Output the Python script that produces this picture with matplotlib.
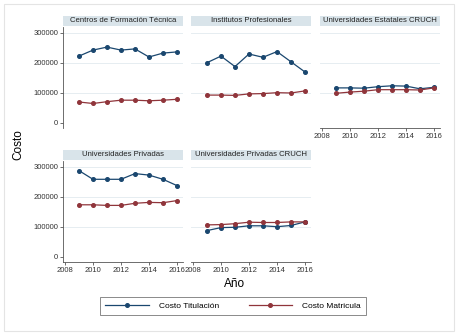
import matplotlib.pyplot as plt
from matplotlib.patches import Rectangle
from matplotlib.lines import Line2D

plt.rcParams['font.family'] = ['Liberation Sans', 'DejaVu Sans']

# datos
years = [2009, 2010, 2011, 2012, 2013, 2014, 2015, 2016]
panels = ["Centros de Formación Técnica", "Institutos Profesionales",
          "Universidades Estatales CRUCH", "Universidades Privadas",
          "Universidades Privadas CRUCH"]
titulacion = [
    [223000, 243000, 253000, 243000, 247000, 220000, 233000, 237000],
    [201000, 223000, 188000, 230000, 219000, 238000, 204000, 170000],
    [117000, 117000, 116000, 121000, 124000, 123000, 114000, 119000],
    [288000, 259000, 259000, 259000, 278000, 273000, 259000, 238000],
    [88000, 98000, 99000, 104000, 104000, 101000, 105000, 117000],
]
matricula = [
    [70000, 65000, 71000, 76000, 76000, 74000, 76000, 79000],
    [93000, 93000, 92000, 97000, 98000, 101000, 100000, 107000],
    [99000, 103000, 106000, 111000, 111000, 111000, 110000, 117000],
    [174000, 174000, 172000, 172000, 179000, 182000, 181000, 188000],
    [107000, 108000, 111000, 116000, 115000, 115000, 117000, 117000],
]
yticks = [0, 100000, 200000, 300000]
xticks = [2008, 2010, 2012, 2014, 2016]

navy = '#1a476f'
maroon = '#90353b'
strip_col = '#d9e4ea'
grid_col = '#e6edf1'

W, H = 457, 335
fig = plt.figure(figsize=(W / 100, H / 100), dpi=100)
fig.patches.append(Rectangle((4 / W, 4 / H), 450 / W, 327 / H, transform=fig.transFigure,
                             fill=False, edgecolor='#e4e4e4', lw=0.8))

# posiciones en pixeles (izq, arriba, abajo)
lefts = [63, 191, 320, 63, 191]
tops = [27, 27, 27, 161, 161]
bottoms = [128, 128, 128, 262, 262]
pw = 120
show_y = [True, False, False, True, False]
show_x = [False, False, True, True, True]

for i, name in enumerate(panels):
    l, t, b = lefts[i], tops[i], bottoms[i]
    ax = fig.add_axes([l / W, (H - b) / H, pw / W, (b - t) / H])
    ax.set_xlim(2007.86, 2016.43)
    ax.set_ylim(-16700, 320000)
    for v in yticks[1:]:
        ax.axhline(v, color=grid_col, lw=0.7, zorder=0)
    ax.plot(years, titulacion[i], color=navy, marker='o', ms=2.6, lw=0.9, zorder=3)
    ax.plot(years, matricula[i], color=maroon, marker='o', ms=2.6, lw=0.9, zorder=3)
    for s in ax.spines.values():
        s.set_visible(False)
    ax.set_yticks(yticks)
    ax.set_xticks(xticks)
    ax.tick_params(labelsize=5.5, length=2, width=0.5, pad=1.5, colors='#333333')
    if show_y[i]:
        ax.spines['left'].set_visible(True)
        ax.spines['left'].set_linewidth(0.6)
        ax.spines['left'].set_color('#555555')
        ax.set_yticklabels([str(v) for v in yticks])
    else:
        ax.tick_params(axis='y', left=False, labelleft=False)
    if show_x[i]:
        ax.spines['bottom'].set_visible(True)
        ax.spines['bottom'].set_linewidth(0.6)
        ax.spines['bottom'].set_color('#555555')
    else:
        ax.tick_params(axis='x', bottom=False, labelbottom=False)
    # strip
    ax.add_patch(Rectangle((0, 1.01), 1, 10 / (b - t), transform=ax.transAxes,
                           facecolor=strip_col, edgecolor='none', clip_on=False))
    ax.text(0.5, 1.01 + 5 / (b - t), name, transform=ax.transAxes, ha='center', va='center',
            fontsize=5.6, color='#222222')

fig.text(18 / W, 1 - 145 / H, "Costo", rotation=90, ha='center', va='center', fontsize=8.5)
fig.text(235 / W, 1 - 284 / H, "Año", ha='center', va='center', fontsize=8.5)

handles = [Line2D([0], [0], color=navy, marker='o', ms=2.6, lw=0.9),
           Line2D([0], [0], color=maroon, marker='o', ms=2.6, lw=0.9)]
leg = fig.legend(handles, ["Costo Titulación", "Costo Matricula"], ncol=2,
                 loc='center', bbox_to_anchor=(233 / W, 1 - 306 / H), fontsize=6,
                 frameon=True, fancybox=False, edgecolor='#555555', handlelength=5.2,
                 columnspacing=3.6, borderpad=0.6, handletextpad=1.2)
leg.get_frame().set_linewidth(0.6)

fig.savefig('out.png', dpi=100)
